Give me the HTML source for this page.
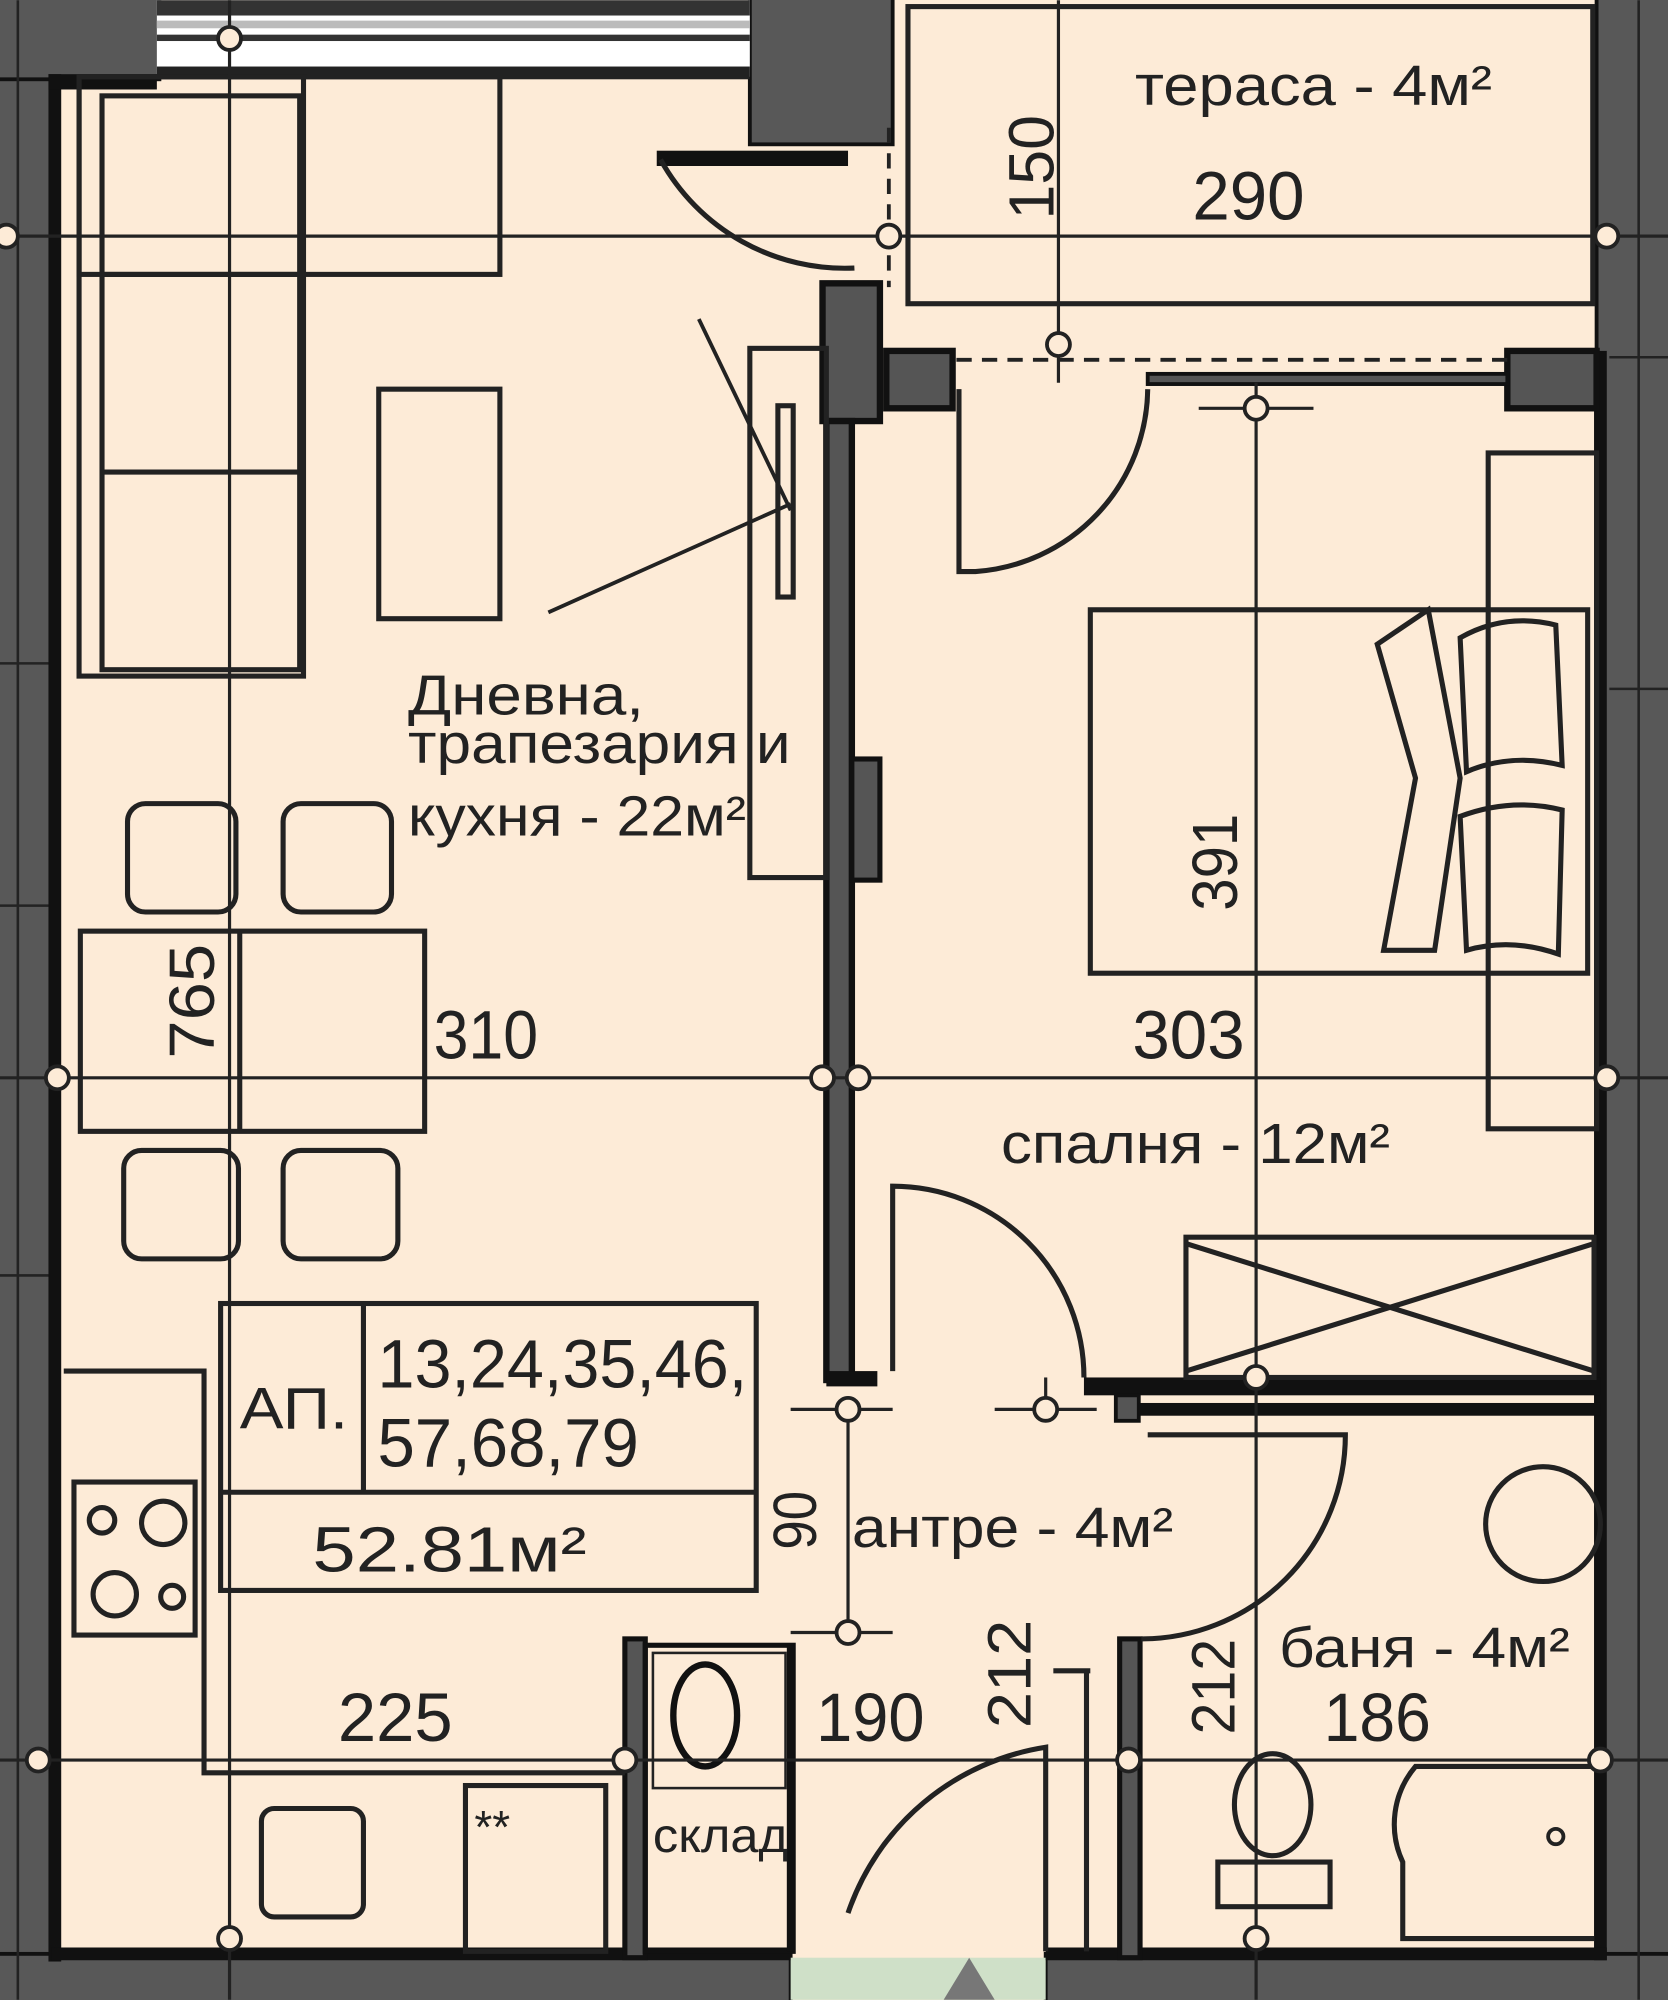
<!DOCTYPE html>
<html><head><meta charset="utf-8"><style>
html,body{margin:0;padding:0;background:#fdebd7;}
svg{display:block}
text{font-family:"Liberation Sans",sans-serif;fill:#222;}
</style></head><body>
<svg width="1668" height="2000" viewBox="0 0 1308 1568" xmlns="http://www.w3.org/2000/svg">
<rect width="1308" height="1568" fill="#fdebd7"/>
<g fill="#585858" stroke="#111" stroke-width="3">
<rect x="-5" y="-5" width="45" height="1580"/>
<rect x="-5" y="-5" width="130" height="67"/>
<rect x="588" y="-5" width="112" height="118"/>
<rect x="1252" y="-5" width="60" height="1580"/>
<rect x="-5" y="1532" width="625" height="40"/>
<rect x="820" y="1532" width="490" height="40"/>
</g>
<g stroke="#222" stroke-width="2">
<line x1="14" y1="0" x2="14" y2="1568"/><line x1="1285" y1="0" x2="1285" y2="1568"/>
<line x1="0" y1="520" x2="40" y2="520"/><line x1="0" y1="710" x2="40" y2="710"/><line x1="0" y1="1000" x2="40" y2="1000"/>
<line x1="1262" y1="540" x2="1308" y2="540"/><line x1="1262" y1="280" x2="1308" y2="280"/>
</g>
<rect x="620" y="1535" width="200" height="33" fill="#cfe0c8"/>
<polygon points="760,1535 740,1568 780,1568" fill="#777"/>
<rect x="123" y="0" width="465" height="60" fill="#fff"/>
<rect x="123" y="0" width="465" height="12" fill="#333"/>
<rect x="123" y="16" width="465" height="6" fill="#bbb"/>
<rect x="123" y="27" width="465" height="5" fill="#333"/>
<rect x="123" y="52" width="465" height="10" fill="#222"/>
<g fill="#111">
<rect x="38" y="58" width="10" height="1480"/>
<rect x="38" y="58" width="85" height="12"/>
<rect x="1250" y="275" width="10" height="1262"/>
<rect x="40" y="1527" width="580" height="10"/>
<rect x="820" y="1527" width="440" height="10"/>
<rect x="515" y="118" width="150" height="12"/>
</g>
<rect x="645" y="222" width="45" height="108" fill="#555" stroke="#111" stroke-width="5"/>
<rect x="648" y="330" width="20" height="752" fill="#555" stroke="#111" stroke-width="5"/>
<rect x="668" y="595" width="22" height="95" fill="#555" stroke="#111" stroke-width="4"/>
<rect x="648" y="1075" width="40" height="12" fill="#111"/>
<rect x="695" y="275" width="52" height="45" fill="#555" stroke="#111" stroke-width="5"/>
<rect x="1182" y="275" width="70" height="45" fill="#555" stroke="#111" stroke-width="5"/>
<line x1="750" y1="282" x2="1182" y2="282" stroke="#222" stroke-width="3" stroke-dasharray="12,8"/>
<rect x="900" y="293" width="282" height="8" fill="#555" stroke="#111" stroke-width="3"/>
<line x1="697" y1="100" x2="697" y2="225" stroke="#222" stroke-width="3" stroke-dasharray="12,8"/>
<rect x="712" y="5" width="537" height="233" fill="none" stroke="#222" stroke-width="4"/>
<rect x="850" y="1080" width="405" height="14" fill="#111"/>
<rect x="875" y="1094" width="18" height="20" fill="#555" stroke="#111" stroke-width="3"/>
<rect x="893" y="1100" width="362" height="10" fill="#111"/>
<rect x="878" y="1285" width="16" height="250" fill="#555" stroke="#111" stroke-width="4"/>
<rect x="490" y="1285" width="16" height="250" fill="#555" stroke="#111" stroke-width="4"/>
<rect x="506" y="1290" width="116" height="240" fill="none" stroke="#111" stroke-width="4"/>
<line x1="620" y1="1290" x2="620" y2="1530" stroke="#111" stroke-width="6"/>
<rect x="512" y="1296" width="104" height="106" fill="none" stroke="#222" stroke-width="2"/>
<ellipse cx="553" cy="1345" rx="25" ry="40" fill="none" stroke="#111" stroke-width="5"/>
<g fill="none" stroke="#222" stroke-width="4">
<rect x="62" y="60" width="330" height="155"/>
<rect x="80" y="75" width="155" height="450"/>
<line x1="80" y1="215" x2="235" y2="215"/>
<line x1="80" y1="370" x2="235" y2="370"/>
<rect x="62" y="60" width="176" height="470"/>
<rect x="297" y="305" width="95" height="180"/>
<rect x="588" y="273" width="60" height="415"/>
<rect x="610" y="318" width="12" height="150"/>
<path d="M518 125 A165 165 0 0 0 670 210"/>
<rect x="63" y="730" width="270" height="157"/>
<line x1="188" y1="730" x2="188" y2="887"/>
<rect x="100" y="630" width="85" height="85" rx="14"/>
<rect x="222" y="630" width="85" height="85" rx="14"/>
<rect x="97" y="902" width="90" height="85" rx="14"/>
<rect x="222" y="902" width="90" height="85" rx="14"/>
<rect x="173" y="1022" width="420" height="225"/>
<line x1="285" y1="1022" x2="285" y2="1170"/>
<line x1="173" y1="1170" x2="593" y2="1170"/>
<polyline points="50,1075 160,1075 160,1390 490,1390"/>
<rect x="58" y="1162" width="95" height="120"/>
<circle cx="80" cy="1192" r="10"/><circle cx="128" cy="1194" r="17"/>
<circle cx="90" cy="1250" r="17"/><circle cx="135" cy="1252" r="9"/>
<rect x="205" y="1418" width="80" height="85" rx="10"/>
<rect x="365" y="1400" width="110" height="130"/>
</g>
<line x1="430" y1="480" x2="620" y2="395" stroke="#222" stroke-width="3"/>
<line x1="548" y1="250" x2="620" y2="400" stroke="#222" stroke-width="3"/>
<g fill="none" stroke="#222" stroke-width="4">
<path d="M752 305 L752 448 L765 448 A145 145 0 0 0 900 305"/>
<rect x="1167" y="355" width="85" height="530"/>
<rect x="855" y="478" width="390" height="285"/>
<path d="M1080 505 L1120 478 L1145 610 L1125 745 L1085 745 L1110 610 Z"/>
<path d="M1145 500 Q1180 480 1220 490 L1225 600 Q1185 590 1150 605 Z"/>
<path d="M1145 640 Q1185 625 1225 635 L1222 748 Q1185 735 1150 745 Z"/>
<rect x="930" y="970" width="320" height="110"/>
<line x1="930" y1="975" x2="1250" y2="1075"/><line x1="930" y1="1075" x2="1250" y2="975"/>
<path d="M700 1075 L700 930 A150 150 0 0 1 850 1080"/>
<path d="M900 1125 L1055 1125 A160 160 0 0 1 895 1285"/>
<circle cx="1210" cy="1195" r="45"/>
<path d="M1250 1385 L1110 1385 A70 70 0 0 0 1100 1460 L1100 1520 L1250 1520"/>
<ellipse cx="998" cy="1415" rx="30" ry="40"/>
<rect x="955" y="1460" width="88" height="35"/>
<path d="M820 1530 L820 1370 A195 195 0 0 0 665 1500"/>
<line x1="826" y1="1310" x2="855" y2="1310"/><line x1="852" y1="1310" x2="852" y2="1530"/>
</g>
<circle cx="1220" cy="1440" r="6" fill="none" stroke="#222" stroke-width="3"/>
<g stroke="#222" stroke-width="2.5" fill="none">
<line x1="180" y1="0" x2="180" y2="1568"/>
<line x1="830" y1="0" x2="830" y2="300"/>
<line x1="985" y1="300" x2="985" y2="1568"/>
<line x1="665" y1="1100" x2="665" y2="1290"/>
<line x1="820" y1="1080" x2="820" y2="1100"/>
<line x1="0" y1="185" x2="1308" y2="185"/>
<line x1="0" y1="845" x2="1308" y2="845"/>
<line x1="0" y1="1380" x2="1308" y2="1380"/>
<line x1="620" y1="1105" x2="700" y2="1105"/>
<line x1="780" y1="1105" x2="860" y2="1105"/>
<line x1="620" y1="1280" x2="700" y2="1280"/>
<line x1="940" y1="320" x2="1030" y2="320"/>
</g>
<g fill="#fdebd7" stroke="#222" stroke-width="3">
<circle cx="180" cy="30" r="9"/><circle cx="697" cy="185" r="9"/><circle cx="1260" cy="185" r="9"/><circle cx="5" cy="185" r="9"/>
<circle cx="830" cy="270" r="9"/><circle cx="985" cy="320" r="9"/>
<circle cx="45" cy="845" r="9"/><circle cx="645" cy="845" r="9"/><circle cx="673" cy="845" r="9"/><circle cx="1260" cy="845" r="9"/>
<circle cx="665" cy="1105" r="9"/><circle cx="820" cy="1105" r="9"/><circle cx="985" cy="1080" r="9"/><circle cx="665" cy="1280" r="9"/>
<circle cx="30" cy="1380" r="9"/><circle cx="490" cy="1380" r="9"/><circle cx="885" cy="1380" r="9"/><circle cx="1255" cy="1380" r="9"/>
<circle cx="180" cy="1520" r="9"/><circle cx="985" cy="1520" r="9"/>
</g>
<g lengthAdjust="spacingAndGlyphs">
<text x="890" y="82" font-size="44" textLength="280" lengthAdjust="spacingAndGlyphs">тераса - 4м²</text>
<text x="935" y="172" font-size="54" textLength="88" lengthAdjust="spacingAndGlyphs">290</text>
<text transform="translate(826,172) rotate(-90)" font-size="50" textLength="82" lengthAdjust="spacingAndGlyphs">150</text>
<text x="320" y="560" font-size="44" textLength="185" lengthAdjust="spacingAndGlyphs">Дневна,</text>
<text x="320" y="598" font-size="44" textLength="300" lengthAdjust="spacingAndGlyphs">трапезария и</text>
<text x="320" y="655" font-size="44" textLength="265" lengthAdjust="spacingAndGlyphs">кухня - 22м²</text>
<text transform="translate(168,830) rotate(-90)" font-size="50" textLength="90" lengthAdjust="spacingAndGlyphs">765</text>
<text x="340" y="830" font-size="54" textLength="82" lengthAdjust="spacingAndGlyphs">310</text>
<text x="888" y="830" font-size="54" textLength="88" lengthAdjust="spacingAndGlyphs">303</text>
<text transform="translate(970,714) rotate(-90)" font-size="50" textLength="76" lengthAdjust="spacingAndGlyphs">391</text>
<text x="785" y="912" font-size="44" textLength="305" lengthAdjust="spacingAndGlyphs">спалня - 12м²</text>
<text x="188" y="1120" font-size="46" textLength="85" lengthAdjust="spacingAndGlyphs">АП.</text>
<text x="296" y="1088" font-size="54" textLength="290" lengthAdjust="spacingAndGlyphs">13,24,35,46,</text>
<text x="296" y="1150" font-size="54" textLength="205" lengthAdjust="spacingAndGlyphs">57,68,79</text>
<text x="245" y="1232" font-size="50" textLength="215" lengthAdjust="spacingAndGlyphs">52.81м²</text>
<text transform="translate(640,1215) rotate(-90)" font-size="48" textLength="46" lengthAdjust="spacingAndGlyphs">90</text>
<text x="668" y="1213" font-size="44" textLength="252" lengthAdjust="spacingAndGlyphs">антре - 4м²</text>
<text x="265" y="1365" font-size="54" textLength="90" lengthAdjust="spacingAndGlyphs">225</text>
<text x="640" y="1365" font-size="54" textLength="85" lengthAdjust="spacingAndGlyphs">190</text>
<text transform="translate(808,1355) rotate(-90)" font-size="48" textLength="85" lengthAdjust="spacingAndGlyphs">212</text>
<text transform="translate(968,1360) rotate(-90)" font-size="48" textLength="75" lengthAdjust="spacingAndGlyphs">212</text>
<text x="1003" y="1307" font-size="44" textLength="228" lengthAdjust="spacingAndGlyphs">баня - 4м²</text>
<text x="1038" y="1365" font-size="54" textLength="84" lengthAdjust="spacingAndGlyphs">186</text>
<text x="512" y="1452" font-size="38" textLength="106" lengthAdjust="spacingAndGlyphs">склад</text>
<text x="372" y="1445" font-size="36">**</text>
</g>
</svg>
</body></html>
